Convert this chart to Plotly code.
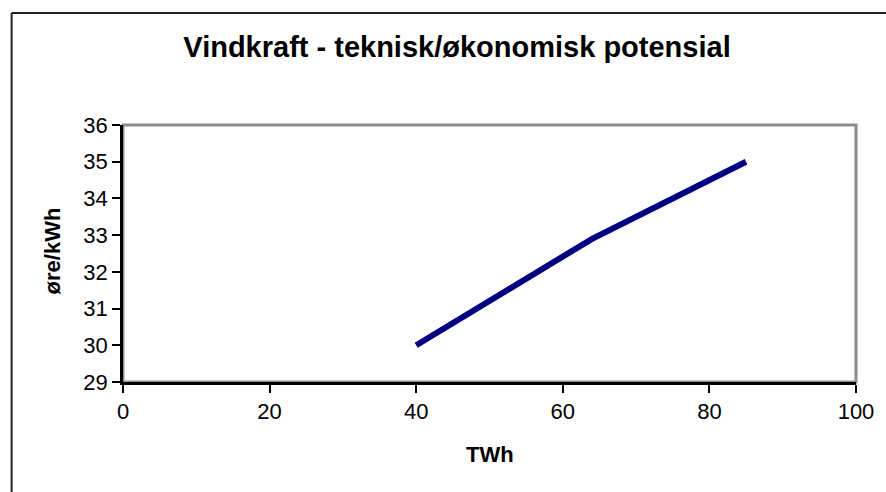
import plotly.graph_objects as go

twh = [40, 64, 85]
ore_kwh = [30, 32.9, 35]
x_ticks = [0, 20, 40, 60, 80, 100]
y_ticks = [29, 30, 31, 32, 33, 34, 35, 36]

W, H = 886, 492
L, R, T, B = 123, 26, 125, 110
pw, ph = W - L - R, H - T - B

def px_x(p):
    return (p - L) / pw

def px_y(p):
    return (H - B - p) / ph

fig = go.Figure()
fig.add_trace(go.Scatter(x=twh, y=ore_kwh, mode="lines",
                         line=dict(color="#000080", width=6), showlegend=False))

font = "Liberation Sans, Arial, sans-serif"
fig.update_layout(
    width=W, height=H,
    margin=dict(l=L, r=R, t=T, b=B),
    paper_bgcolor="white", plot_bgcolor="white",
    font=dict(family=font, color="black"),
    title=dict(text="<b>Vindkraft - teknisk/økonomisk potensial</b>",
               x=457 / W, xanchor="center", y=1 - 47 / H, yanchor="middle",
               font=dict(size=29, family=font, color="black")),
    xaxis=dict(range=[0, 100], tickvals=x_ticks, ticks="outside", ticklen=8,
               tickcolor="black", tickwidth=2, showline=True, linecolor="black",
               linewidth=2.5, showgrid=False, zeroline=False,
               tickfont=dict(size=22, color="black")),
    yaxis=dict(range=[29, 36], tickvals=y_ticks, ticks="outside", ticklen=8,
               tickcolor="black", tickwidth=2, showline=True, linecolor="black",
               linewidth=2.5, showgrid=False, zeroline=False,
               tickfont=dict(size=22, color="black")),
    shapes=[
        dict(type="rect", xref="paper", yref="paper", x0=0, x1=1, y0=0, y1=1,
             line=dict(color="#8c8c8c", width=3), layer="below"),
        # outer chart border: left and top edges
        dict(type="line", xref="paper", yref="paper",
             x0=px_x(11), x1=px_x(11), y0=px_y(H + 5), y1=px_y(13),
             line=dict(color="#222222", width=2)),
        dict(type="line", xref="paper", yref="paper",
             x0=px_x(11), x1=px_x(W + 5), y0=px_y(13), y1=px_y(13),
             line=dict(color="#222222", width=2)),
    ],
    annotations=[
        dict(text="<b>TWh</b>", xref="paper", yref="paper", x=px_x(492), y=px_y(455),
             xanchor="center", yanchor="middle", showarrow=False,
             font=dict(size=22, family=font, color="black")),
        dict(text="<b>øre/kWh</b>", xref="paper", yref="paper", x=px_x(52), y=px_y(251),
             xanchor="center", yanchor="middle", showarrow=False, textangle=-90,
             font=dict(size=22, family=font, color="black")),
    ],
)
fig.write_html("out.html", config={"displayModeBar": False},
               post_script="document.body.style.margin='0';")
